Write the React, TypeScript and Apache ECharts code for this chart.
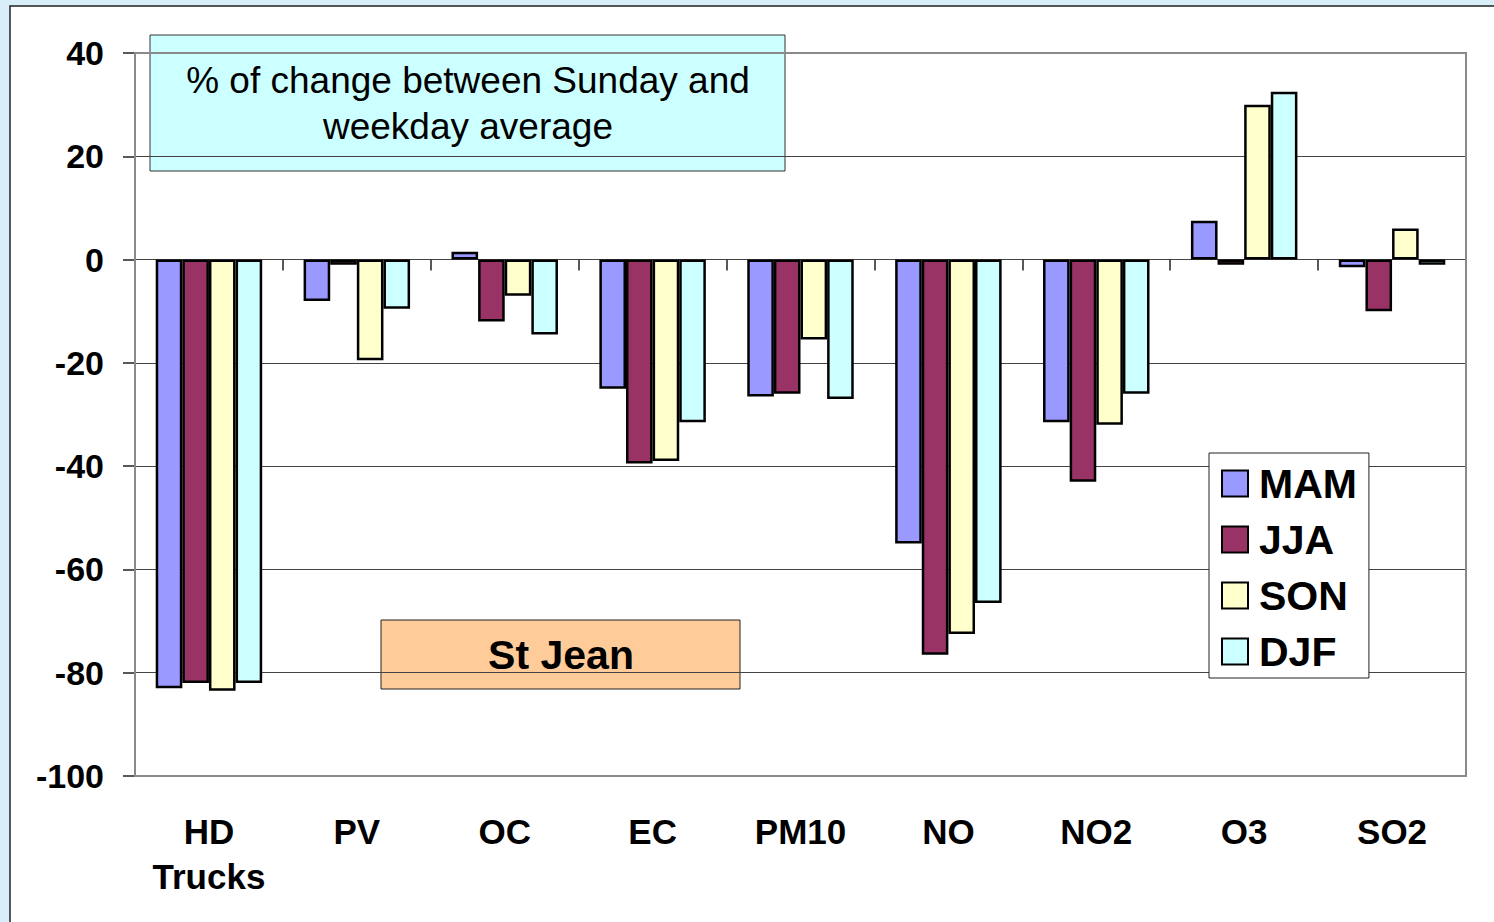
import React, { useEffect, useRef } from "react";
import * as echarts from "echarts";

const categories = ["HD\nTrucks", "PV", "OC", "EC", "PM10", "NO", "NO2", "O3", "SO2"];
const seasons = ["MAM", "JJA", "SON", "DJF"];
const mam = [-83, -8, 1.5, -25, -26.5, -55, -31.5, 7.5, -1.5];
const jja = [-82, -1, -12, -39.5, -26, -76.5, -43, -1, -10];
const son = [-83.5, -19.5, -7, -39, -15.5, -72.5, -32, 30, 6];
const djf = [-82, -9.5, -14.5, -31.5, -27, -66.5, -26, 32.5, -1];
const seriesValues = [mam, jja, son, djf];
const colors = ["#9999FF", "#993366", "#FFFFCC", "#CCFFFF"];
const yTicks = { min: -100, max: 40, interval: 20 };

const FONT = "'Liberation Sans', Arial, Helvetica, sans-serif";

export default function App() {
  const ref = useRef<HTMLDivElement>(null);
  useEffect(() => {
    if (!ref.current) return;
    const chart = echarts.init(ref.current, null, { renderer: "svg" });
    chart.setOption({
      animation: false,
      backgroundColor: "#d8eff9",
      textStyle: { fontFamily: FONT },
      grid: {
        left: 135,
        top: 53,
        right: 28,
        bottom: 146,
        show: true,
        backgroundColor: "transparent",
        borderColor: "#8a8a8a",
        borderWidth: 2,
        z: 3,
      },
      legend: {
        orient: "vertical",
        left: 1209,
        top: 453,
        data: seasons,
        icon: "rect",
        itemWidth: 26,
        itemHeight: 26,
        itemGap: 15,
        padding: [10, 12, 6, 12],
        backgroundColor: "#ffffff",
        borderColor: "#222",
        borderWidth: 1,
        textStyle: {
          fontSize: 41,
          fontWeight: "bold",
          color: "#000",
          lineHeight: 39,
          padding: [0, 0, 0, 6],
          fontFamily: FONT,
        },
        itemStyle: { borderColor: "#000", borderWidth: 2 },
      },
      xAxis: [
        {
          type: "category",
          data: categories,
          position: "bottom",
          axisLine: { onZero: false, lineStyle: { color: "#8a8a8a", width: 2 } },
          axisTick: { show: false },
          splitLine: { show: false },
          axisLabel: {
            color: "#000",
            fontSize: 35,
            fontWeight: "bold",
            lineHeight: 45,
            margin: 33,
            fontFamily: FONT,
            interval: 0,
          },
        },
        {
          type: "category",
          data: categories,
          position: "top",
          axisLine: { onZero: true, lineStyle: { color: "#444", width: 1 } },
          axisTick: { show: true, inside: true, length: 11, lineStyle: { color: "#222", width: 1.5 } },
          axisLabel: { show: false },
          splitLine: { show: false },
        },
      ],
      yAxis: {
        type: "value",
        min: yTicks.min,
        max: yTicks.max,
        interval: yTicks.interval,
        axisLine: { show: true, lineStyle: { color: "#222", width: 1.5 } },
        axisTick: { show: true, length: 12, lineStyle: { color: "#222", width: 1.5 } },
        splitLine: { show: true, lineStyle: { color: "#444", width: 1 } },
        axisLabel: {
          color: "#000",
          fontSize: 34,
          fontWeight: "bold",
          margin: 31,
          fontFamily: FONT,
        },
      },
      series: seasons.map((name, i) => ({
        name,
        type: "bar",
        xAxisIndex: 0,
        data: seriesValues[i],
        barGap: "0%",
        barCategoryGap: "28%",
        itemStyle: { color: colors[i], borderColor: "#000", borderWidth: 2.5 },
        z: 4,
      })),
      graphic: [
        {
          type: "rect",
          shape: { x: 10, y: 6, width: 1600, height: 1000 },
          style: { fill: "#ffffff", stroke: "#222", lineWidth: 1.5 },
          z: -10,
          silent: true,
        },
        {
          type: "group",
          z: 100,
          children: [
            {
              type: "rect",
              shape: { x: 150, y: 35, width: 635, height: 136 },
              style: { fill: "#CCFFFF", stroke: "#333", lineWidth: 1 },
            },
            {
              type: "text",
              x: 468,
              y: 103,
              style: {
                text: "% of change between Sunday and\nweekday average",
                fill: "#000",
                font: `37px ${FONT}`,
                lineHeight: 46,
                align: "center",
                verticalAlign: "middle",
              },
            },
            {
              type: "rect",
              shape: { x: 381, y: 620, width: 359, height: 69 },
              style: { fill: "#FFCC99", stroke: "#222", lineWidth: 1 },
            },
            {
              type: "text",
              x: 561,
              y: 655,
              style: {
                text: "St Jean",
                fill: "#000",
                font: `bold 41px ${FONT}`,
                align: "center",
                verticalAlign: "middle",
              },
            },
          ],
        },
      ],
    });
    return () => chart.dispose();
  }, []);
  return (
    <div
      ref={ref}
      style={{ position: "absolute", left: 0, top: 0, width: 1494, height: 922 }}
    />
  );
}
